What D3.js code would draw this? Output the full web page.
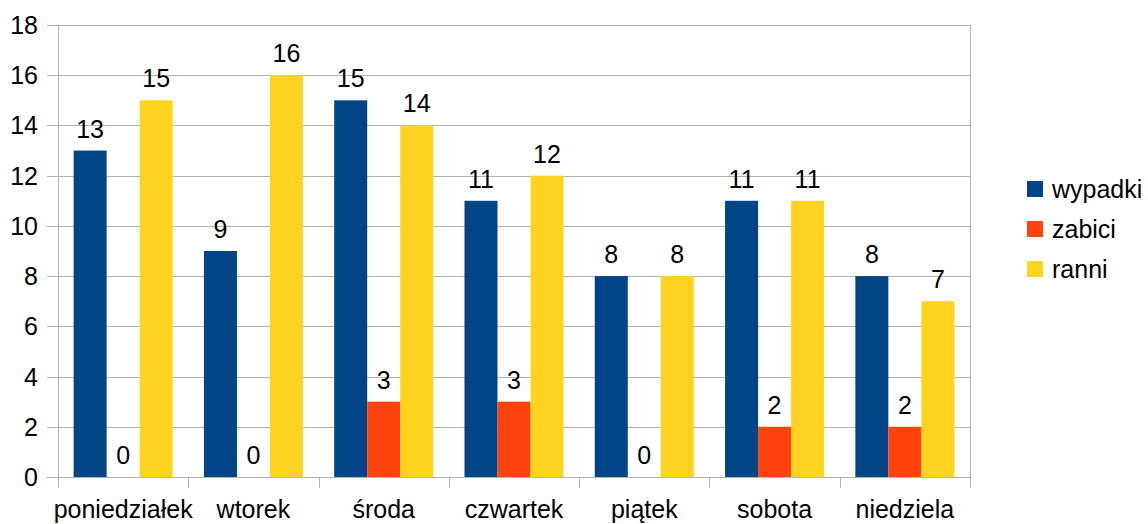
<!DOCTYPE html>
<html lang="pl">
<head>
  <meta charset="UTF-8">
  <title>Wypadki</title>
  <style>
    * { margin: 0; box-sizing: border-box; }
    body { background: #fff; }
    svg { display: block; font-family: 'Liberation Sans', Arial, sans-serif; }
    .grid line { stroke: #b3b3b3; stroke-width: 1; }
    .lbl { font-size: 25px; fill: #000; }
  </style>
</head>
<body>
  <svg></svg>
  <script src="https://d3js.org/d3.v7.min.js"></script>
  <script>
    const days = ['poniedziałek', 'wtorek', 'środa', 'czwartek', 'piątek', 'sobota', 'niedziela'];
    const seriesNames = ['wypadki', 'zabici', 'ranni'];
    const wypadki = [13, 9, 15, 11, 8, 11, 8];
    const zabici = [0, 0, 3, 3, 0, 2, 2];
    const ranni = [15, 16, 14, 12, 8, 11, 7];
    const colors = ['#004586', '#ff420e', '#ffd320'];
    const yTicks = [0, 2, 4, 6, 8, 10, 12, 14, 16, 18];

    const width = 1148, height = 524;
    const plot = { left: 58, right: 970, top: 25, bottom: 477 };

    const svg = d3.select('svg')
      .attr('width', width)
      .attr('height', height);

    const values = [wypadki, zabici, ranni];

    const x0 = d3.scaleBand()
      .domain(days)
      .range([plot.left, plot.right]);

    const bw = x0.bandwidth();
    const x1 = d3.scaleBand()
      .domain(seriesNames)
      .range([bw * 0.12, bw * 0.88]);

    const y = d3.scaleLinear()
      .domain([0, 18])
      .range([plot.bottom, plot.top]);

    // horizontal gridlines + left tick marks
    const grid = svg.append('g').attr('class', 'grid');
    grid.selectAll('line.h')
      .data(yTicks)
      .enter().append('line')
      .attr('class', 'h')
      .attr('x1', plot.left - 11)
      .attr('x2', plot.right)
      .attr('y1', d => Math.round(y(d)) + 0.5)
      .attr('y2', d => Math.round(y(d)) + 0.5);

    // vertical axis line and category separators
    grid.append('line')
      .attr('x1', plot.left + 0.5).attr('x2', plot.left + 0.5)
      .attr('y1', plot.top).attr('y2', plot.bottom + 11);
    grid.selectAll('line.v')
      .data(days)
      .enter().append('line')
      .attr('class', 'v')
      .attr('x1', d => Math.round(x0(d) + bw) + 0.5)
      .attr('x2', d => Math.round(x0(d) + bw) + 0.5)
      .attr('y1', (d, i) => i === days.length - 1 ? plot.top : plot.bottom)
      .attr('y2', plot.bottom + 11);

    // y tick labels
    svg.append('g').selectAll('text')
      .data(yTicks)
      .enter().append('text')
      .attr('class', 'lbl')
      .attr('x', 38)
      .attr('y', d => y(d))
      .attr('dy', '0.36em')
      .attr('text-anchor', 'end')
      .text(d => d);

    // x labels
    svg.append('g').selectAll('text')
      .data(days)
      .enter().append('text')
      .attr('class', 'lbl')
      .attr('x', d => x0(d) + bw / 2)
      .attr('y', 518)
      .attr('text-anchor', 'middle')
      .text(d => d);

    // bars
    const groups = svg.append('g').selectAll('g')
      .data(days)
      .enter().append('g')
      .attr('transform', d => 'translate(' + x0(d) + ',0)');

    const cells = groups.selectAll('g')
      .data((d, i) => seriesNames.map((s, j) => ({ s: s, j: j, v: values[j][i] })))
      .enter().append('g');

    cells.append('rect')
      .attr('x', d => x1(d.s))
      .attr('width', x1.bandwidth())
      .attr('y', d => y(d.v))
      .attr('height', d => y(0) - y(d.v))
      .attr('fill', d => colors[d.j]);

    cells.append('text')
      .attr('class', 'lbl')
      .attr('x', d => x1(d.s) + x1.bandwidth() / 2)
      .attr('y', d => y(d.v) - 13)
      .attr('text-anchor', 'middle')
      .text(d => d.v);

    // legend
    const legend = svg.append('g').selectAll('g')
      .data(seriesNames)
      .enter().append('g')
      .attr('transform', (d, i) => 'translate(1027,' + (181 + i * 40) + ')');

    legend.append('rect')
      .attr('width', 16)
      .attr('height', 16)
      .attr('fill', (d, i) => colors[i]);

    legend.append('text')
      .attr('class', 'lbl')
      .attr('x', 25)
      .attr('y', 8)
      .attr('dy', '0.36em')
      .text(d => d);
  </script>
</body>
</html>
